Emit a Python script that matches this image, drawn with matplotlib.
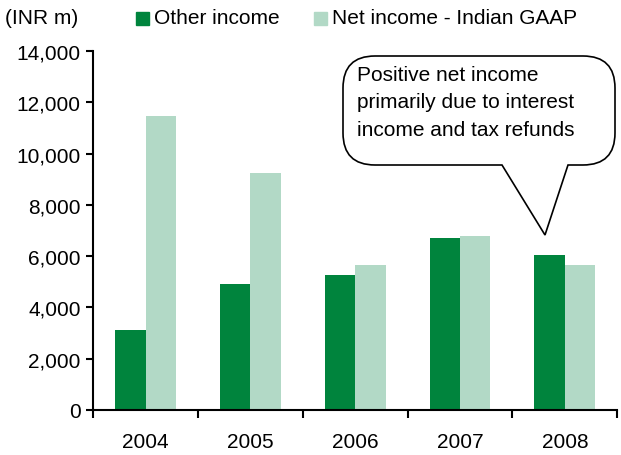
import matplotlib.pyplot as plt
import numpy as np
from matplotlib.path import Path
from matplotlib.patches import PathPatch, Rectangle
from matplotlib.transforms import Affine2D

plt.rcParams['font.family'] = ['Liberation Sans', 'DejaVu Sans']

years = ["2004", "2005", "2006", "2007", "2008"]
other_income = [3120, 4920, 5270, 6720, 6050]
net_income = [11480, 9250, 5660, 6800, 5660]

dark = "#00843d"
light = "#b2d9c6"
fs = 15

fig = plt.figure(figsize=(6.21, 4.56), dpi=100)
ax = fig.add_axes([0.150, 0.0987, 0.844, 0.787])

x = np.arange(len(years))
w = 0.29
ax.bar(x - w / 2, other_income, w, color=dark)
ax.bar(x + w / 2, net_income, w, color=light)

ax.set_xlim(-0.5, len(years) - 0.5)
ax.set_ylim(0, 14000)
ax.set_yticks(range(0, 14001, 2000))
ax.set_yticklabels([f"{v:,}" for v in range(0, 14001, 2000)], fontsize=fs)
ax.set_xticks(x)
ax.set_xticklabels(years, fontsize=fs)
ax.tick_params(axis='x', length=0, pad=16)
ax.set_xticks(np.arange(-0.5, len(years)), minor=True)
ax.tick_params(axis='x', which='minor', length=6, width=1.5, direction='out')
ax.tick_params(axis='y', length=5, width=1.5, direction='out', pad=4)
for s in ['top', 'right']:
    ax.spines[s].set_visible(False)
for s in ['left', 'bottom']:
    ax.spines[s].set_linewidth(1.5)

# pixel coordinates, origin top-left
px = Affine2D().scale(1 / 100, -1 / 100).translate(0, 4.56) + fig.dpi_scale_trans

fig.text(5, 19, "(INR m)", transform=px, fontsize=fs, va='center')
fig.patches.append(Rectangle((136, 13), 13, 13, transform=px, color=dark))
fig.text(154, 19, "Other income", transform=px, fontsize=fs, va='center')
fig.patches.append(Rectangle((314, 13), 13, 13, transform=px, color=light))
fig.text(332, 19, "Net income - Indian GAAP", transform=px, fontsize=fs, va='center')

# speech bubble
L, R, T, B, r = 343, 615, 57, 166, 32
verts = [(L + r, T), (R - r, T), (R, T), (R, T + r), (R, B - r), (R, B), (R - r, B),
         (568, B), (545, 236), (502, B), (L + r, B), (L, B), (L, B - r),
         (L, T + r), (L, T), (L + r, T), (L + r, T)]
codes = [Path.MOVETO, Path.LINETO, Path.CURVE3, Path.CURVE3, Path.LINETO, Path.CURVE3, Path.CURVE3,
         Path.LINETO, Path.LINETO, Path.LINETO, Path.LINETO, Path.CURVE3, Path.CURVE3,
         Path.LINETO, Path.CURVE3, Path.CURVE3, Path.CLOSEPOLY]
fig.patches.append(PathPatch(Path(verts, codes), transform=px, facecolor='white',
                             edgecolor='black', linewidth=1.2))
fig.text(357, 103, "Positive net income\nprimarily due to interest\nincome and tax refunds",
         transform=px, fontsize=fs, va='center', linespacing=1.55)

fig.savefig("out.png", dpi=100)
